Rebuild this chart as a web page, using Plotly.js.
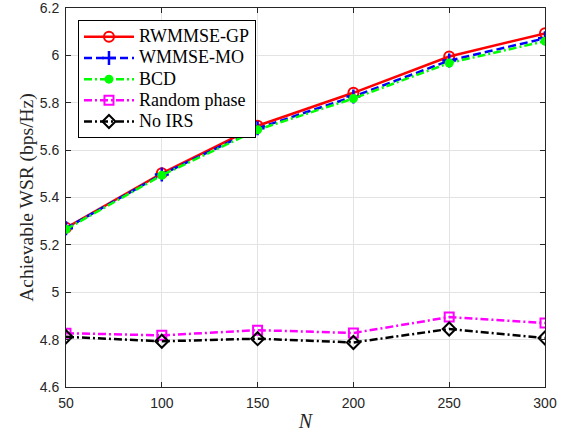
<!DOCTYPE html>
<html>
<head>
<meta charset="utf-8">
<script src="https://cdn.plot.ly/plotly-3.0.1.min.js"></script>
<style>html,body{margin:0;padding:0;background:#fff;}#chart{width:567px;height:435px;}</style>
</head>
<body>
<div id="chart"></div>
<script>
const N = [50, 100, 150, 200, 250, 300];
const seriesNames = ['RWMMSE-GP', 'WMMSE-MO', 'BCD', 'Random phase', 'No IRS'];
const rwmmseGP = [5.272, 5.502, 5.703, 5.842, 5.995, 6.093];
const wmmseMO = [5.270, 5.497, 5.692, 5.826, 5.978, 6.072];
const bcd = [5.266, 5.494, 5.686, 5.818, 5.968, 6.060];
const randomPhase = [4.827, 4.818, 4.840, 4.828, 4.895, 4.870];
const noIRS = [4.812, 4.793, 4.804, 4.788, 4.845, 4.807];

const lbl = s => '<span style="font-size:18px">' + s + '</span>';

const traces = [
  {x: N, y: rwmmseGP, name: lbl(seriesNames[0]), mode: 'lines+markers',
   line: {color: '#ff0000', width: 2.5, dash: 'solid'},
   marker: {symbol: 'circle-open', size: 10, color: '#ff0000', line: {width: 2, color: '#ff0000'}}},
  {x: N, y: wmmseMO, name: lbl(seriesNames[1]), mode: 'lines+markers',
   line: {color: '#0000ff', width: 2.5, dash: '8px,4px'},
   marker: {symbol: 'cross-thin-open', size: 10, color: '#0000ff', line: {width: 2.5, color: '#0000ff'}}},
  {x: N, y: bcd, name: lbl(seriesNames[2]), mode: 'lines+markers',
   line: {color: '#00ff00', width: 2.5, dash: '8px,3px,2px,3px'},
   marker: {symbol: 'circle', size: 9, color: '#00ff00'}},
  {x: N, y: randomPhase, name: lbl(seriesNames[3]), mode: 'lines+markers',
   line: {color: '#ff00ff', width: 2.5, dash: '8px,3px,2px,3px'},
   marker: {symbol: 'square-open', size: 9, color: '#ff00ff', line: {width: 2, color: '#ff00ff'}}},
  {x: N, y: noIRS, name: lbl(seriesNames[4]), mode: 'lines+markers',
   line: {color: '#000000', width: 2.5, dash: '8px,3px,2px,3px'},
   marker: {symbol: 'diamond-open', size: 10, color: '#000000', line: {width: 2, color: '#000000'}}}
];

const layout = {
  width: 567, height: 435,
  margin: {l: 66, r: 22, t: 8, b: 48},
  paper_bgcolor: '#ffffff', plot_bgcolor: '#ffffff',
  showlegend: true,
  legend: {x: 0.025, y: 0.968, xanchor: 'left', yanchor: 'top',
    bgcolor: '#ffffff', bordercolor: '#000000', borderwidth: 1,
    font: {family: 'Liberation Serif, Times New Roman, serif', size: 14, color: '#000'},
    tracegroupgap: 0, itemwidth: 50},
  xaxis: {range: [50, 300], tickvals: N, ticktext: ['50','100','150','200','250','300'],
    showgrid: true, gridcolor: '#e3e3e3', gridwidth: 1,
    showline: true, linecolor: '#262626', linewidth: 1, mirror: 'ticks',
    ticks: 'inside', ticklen: 5, tickcolor: '#262626', zeroline: false, ticklabelstandoff: 3,
    ticklabeloverflow: 'allow',
    tickfont: {family: 'Liberation Sans, Arial, sans-serif', size: 14, color: '#262626'},
    title: {text: '<i>N</i>', font: {family: 'Liberation Serif, Times New Roman, serif', size: 20, color: '#262626'}, standoff: 4}},
  yaxis: {range: [4.6, 6.2], dtick: 0.2, tick0: 4.6,
    showgrid: true, gridcolor: '#e3e3e3', gridwidth: 1,
    showline: true, linecolor: '#262626', linewidth: 1, mirror: 'ticks',
    ticks: 'inside', ticklen: 5, tickcolor: '#262626', zeroline: false, ticklabelstandoff: 3,
    ticklabeloverflow: 'allow',
    tickfont: {family: 'Liberation Sans, Arial, sans-serif', size: 14, color: '#262626'},
    title: {text: 'Achievable WSR (bps/Hz)', font: {family: 'Liberation Serif, Times New Roman, serif', size: 19.5, color: '#262626'}, standoff: 0}}
};

Plotly.newPlot('chart', traces, layout, {displayModeBar: false, staticPlot: true});
</script>
</body>
</html>
